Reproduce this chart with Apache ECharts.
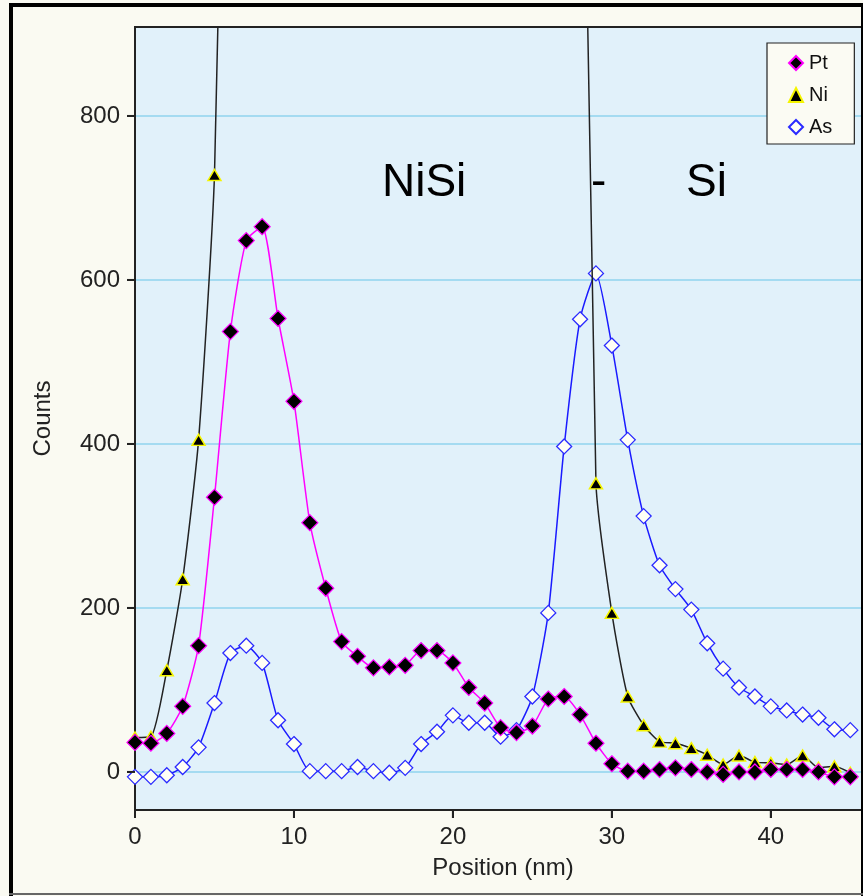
<!DOCTYPE html>
<html>
<head>
<meta charset="utf-8">
<script src="https://cdn.jsdelivr.net/npm/echarts@6/dist/echarts.min.js"></script>
<style>
html,body{margin:0;padding:0;background:#fafaf2;}
#chart{width:863px;height:896px;}
</style>
</head>
<body>
<div id="chart"></div>
<script>
// Data
var positions = [0,1,2,3,4,5,6,7,8,9,10,11,12,13,14,15,16,17,18,19,20,21,22,23,24,25,26,27,28,29,30,31,32,33,34,35,36,37,38,39,40,41,42,43,44,45];
var ptCounts = [36,35,47,80,154,335,537,648,665,553,452,304,224,159,141,127,128,130,148,148,133,103,84,54,48,56,89,92,70,35,10,1,1,3,5,3,0,-3,0,0,3,3,3,0,-6,-6];
var niCounts = [42,43,124,235,405,728,1620,2300,2800,3100,3300,3400,3450,3500,3500,3450,3400,3300,3200,3100,3000,2900,2800,2700,2500,2200,1900,1700,1450,352,194,92,57,37,35,29,21,9,20,12,11,9,20,5,7,-1];
var asCounts = [-6,-6,-4,6,30,84,145,154,133,63,34,1,1,1,6,1,-1,5,34,49,69,60,60,43,51,92,194,397,552,608,520,405,312,252,223,198,157,126,103,92,80,75,70,66,52,51];
var yTicks = [0,200,400,600,800];
var xTicks = [0,10,20,30,40];
var seriesNames = ['Pt','Ni','As'];
var regionLabels = ['NiSi','-','Si'];

var Y_MIN = -46.4, Y_MAX = 908.5, X_MIN = 0, X_MAX = 45.8;

function pairs(vals){ return positions.map(function(p,i){ return [p, vals[i]]; }); }

var chart = echarts.init(document.getElementById('chart'), null, {renderer:'canvas'});
var FONT = 'Liberation Sans, Arial, sans-serif';

function yTickItem(params, api){
  var p = api.coord([X_MIN, api.value(0)]);
  return {type: 'line', shape: {x1: p[0] - 8, y1: p[1], x2: p[0], y2: p[1]}, style: {stroke: '#222', lineWidth: 2}};
}
function xTickItem(params, api){
  var p = api.coord([api.value(0), Y_MIN]);
  return {type: 'line', shape: {x1: p[0], y1: p[1], x2: p[0], y2: p[1] + 8}, style: {stroke: '#222', lineWidth: 2}};
}

var option = {
  animation: false,
  backgroundColor: '#fafaf2',
  grid: {
    left: 135, top: 27, width: 728, height: 783,
    show: true, backgroundColor: '#e1f1fa', borderColor: '#222', borderWidth: 2
  },
  legend: {
    orient: 'vertical', left: 767, top: 43,
    padding: [10, 22, 7, 21],
    itemGap: 12, itemWidth: 14, itemHeight: 14,
    backgroundColor: '#fbfbf3', borderColor: '#222', borderWidth: 1.2,
    textStyle: {fontFamily: FONT, fontSize: 20, color: '#111', lineHeight: 20, padding:[0,0,0,1]},
    data: [
      {name: seriesNames[0], icon: 'diamond'},
      {name: seriesNames[1], icon: 'triangle'},
      {name: seriesNames[2], icon: 'diamond'}
    ]
  },
  xAxis: {
    type: 'value', min: X_MIN, max: X_MAX,
    name: 'Position (nm)', nameLocation: 'middle', nameGap: 46,
    nameTextStyle: {fontFamily: FONT, fontSize: 24, color: '#222', padding: [0,0,0,8]},
    axisLine: {show: true, onZero: false, lineStyle: {color: '#222', width: 2}},
    axisTick: {show: true, length: 8, lineStyle: {color: '#222', width: 2}, customValues: xTicks},
    axisLabel: {fontFamily: FONT, fontSize: 24, color: '#222', margin: 15, customValues: xTicks},
    splitLine: {show: false}
  },
  yAxis: {
    type: 'value', min: Y_MIN, max: Y_MAX,
    name: 'Counts', nameLocation: 'middle', nameGap: 80, nameRotate: 90,
    nameTextStyle: {fontFamily: FONT, fontSize: 24, color: '#222'},
    axisLine: {show: true, onZero: false, lineStyle: {color: '#222', width: 2}},
    axisTick: {show: true, length: 8, lineStyle: {color: '#222', width: 2}, customValues: yTicks},
    axisLabel: {fontFamily: FONT, fontSize: 24, color: '#222', margin: 15, customValues: yTicks},
    splitLine: {show: true, lineStyle: {color: '#8fd3ee', width: 1.5}}
  },
  series: [
    {
      name: seriesNames[2], type: 'line', data: pairs(asCounts), smooth: 0.2, clip: true,
      symbol: 'diamond', symbolSize: 15, z: 2,
      lineStyle: {color: '#1a1aff', width: 1.5},
      itemStyle: {color: '#fffff5', borderColor: '#2a2aff', borderWidth: 1.3}
    },
    {
      name: seriesNames[1], type: 'line', data: pairs(niCounts), smooth: 0.2, clip: true,
      symbol: 'triangle', symbolSize: [13, 11], z: 3,
      lineStyle: {color: '#222', width: 1.5},
      itemStyle: {color: '#000', borderColor: '#f5f500', borderWidth: 1.5}
    },
    {
      name: seriesNames[0], type: 'line', data: pairs(ptCounts), smooth: 0.2, clip: true,
      symbol: 'diamond', symbolSize: 16, z: 4,
      lineStyle: {color: '#ff00ff', width: 1.5},
      itemStyle: {color: '#000', borderColor: '#ff00ff', borderWidth: 1.2}
    },
    {
      name: 'yticks', type: 'custom', clip: false, silent: true, z: 5,
      data: yTicks.map(function(v){ return [v]; }),
      encode: {y: 0}, renderItem: yTickItem
    },
    {
      name: 'xticks', type: 'custom', clip: false, silent: true, z: 5,
      data: xTicks.map(function(v){ return [v]; }),
      encode: {x: 0}, renderItem: xTickItem
    }
  ],
  graphic: [
    {type: 'text', left: 382, top: 160, z: 10, style: {text: regionLabels[0], font: '46px ' + FONT, fill: '#000'}},
    {type: 'text', left: 591, top: 160, z: 10, style: {text: regionLabels[1], font: '46px ' + FONT, fill: '#000'}},
    {type: 'text', left: 686, top: 160, z: 10, style: {text: regionLabels[2], font: '46px ' + FONT, fill: '#000'}},
    {type: 'line', z: 20, shape: {x1: 9, y1: 5, x2: 863, y2: 5}, style: {stroke: '#000', lineWidth: 4}},
    {type: 'line', z: 20, shape: {x1: 11, y1: 3, x2: 11, y2: 896}, style: {stroke: '#000', lineWidth: 4}},
    {type: 'line', z: 20, shape: {x1: 862, y1: 3, x2: 862, y2: 896}, style: {stroke: '#000', lineWidth: 2}},
    {type: 'line', z: 20, shape: {x1: 9, y1: 894, x2: 863, y2: 894}, style: {stroke: '#666', lineWidth: 2}}
  ]
};
chart.setOption(option);
</script>
</body>
</html>
